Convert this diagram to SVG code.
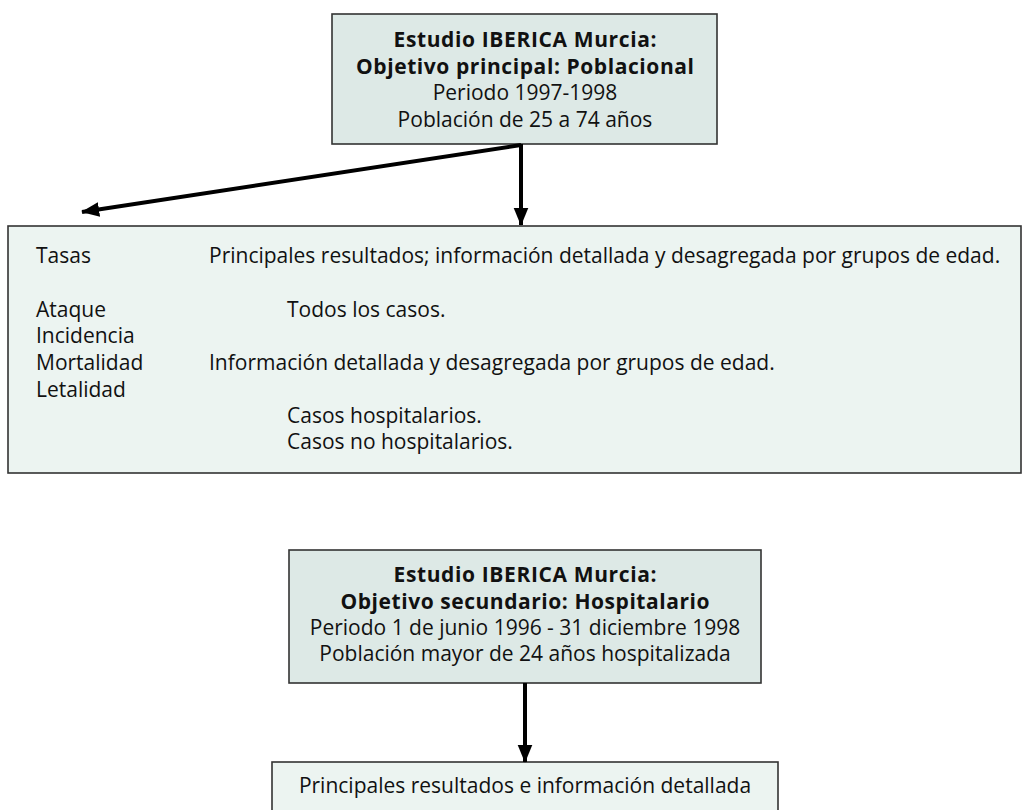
<svg xmlns="http://www.w3.org/2000/svg" width="1027" height="810" viewBox="0 0 1027 810">
<defs>
<style>
.box{fill:#dde9e6;stroke:#333;stroke-width:1.6}
.big{fill:#ecf4f1;stroke:#333;stroke-width:1.6}
text{font-family:"Open Sans","Noto Sans",sans-serif;font-size:21px;fill:#111}
.c{text-anchor:middle}
.b{font-weight:bold}
.ln{stroke:#000;stroke-width:4;fill:none}
</style>
<marker id="ah" markerUnits="userSpaceOnUse" markerWidth="18" markerHeight="22" refX="21" refY="9" orient="auto" viewBox="0 0 22 18">
<path d="M0,0 L22,9 L0,18 Z" fill="#000"/>
</marker>
</defs>
<rect width="1027" height="810" fill="#fff"/>
<g id="top-node">
<rect class="box" x="332" y="14" width="385" height="130"/>
<text class="c b" x="525" y="47" textLength="263" lengthAdjust="spacing">Estudio IBERICA Murcia:</text>
<text class="c b" x="525" y="74" textLength="338" lengthAdjust="spacing">Objetivo principal: Poblacional</text>
<text class="c" x="525" y="100">Periodo 1997-1998</text>
<text class="c" x="525" y="127">Población de 25 a 74 años</text>
</g>
<g id="results-node">
<rect class="big" x="8" y="226" width="1013" height="247"/>
<text x="36" y="263">Tasas</text>
<text x="209" y="263">Principales resultados; información detallada y desagregada por grupos de edad.</text>
<text x="36" y="317">Ataque</text>
<text x="287" y="317">Todos los casos.</text>
<text x="36" y="343">Incidencia</text>
<text x="36" y="370">Mortalidad</text>
<text x="209" y="370">Información detallada y desagregada por grupos de edad.</text>
<text x="36" y="397">Letalidad</text>
<text x="287" y="423">Casos hospitalarios.</text>
<text x="287" y="449">Casos no hospitalarios.</text>
</g>
<g id="hosp-node">
<rect class="box" x="289" y="550" width="472" height="133"/>
<text class="c b" x="525" y="582" textLength="263" lengthAdjust="spacing">Estudio IBERICA Murcia:</text>
<text class="c b" x="525" y="609" textLength="369" lengthAdjust="spacing">Objetivo secundario: Hospitalario</text>
<text class="c" x="525" y="635">Periodo 1 de junio 1996 - 31 diciembre 1998</text>
<text class="c" x="525" y="661">Población mayor de 24 años hospitalizada</text>
</g>
<g id="hosp-result-node">
<rect class="big" x="272" y="762" width="506" height="70"/>
<text class="c" x="525" y="793">Principales resultados e información detallada</text>
</g>
<g id="connectors">
<line class="ln" x1="521" y1="144" x2="521" y2="225" marker-end="url(#ah)"/>
<line class="ln" x1="521" y1="145" x2="82" y2="212" marker-end="url(#ah)"/>
<line class="ln" x1="525" y1="683" x2="525" y2="762" marker-end="url(#ah)"/>
</g>
</svg>
